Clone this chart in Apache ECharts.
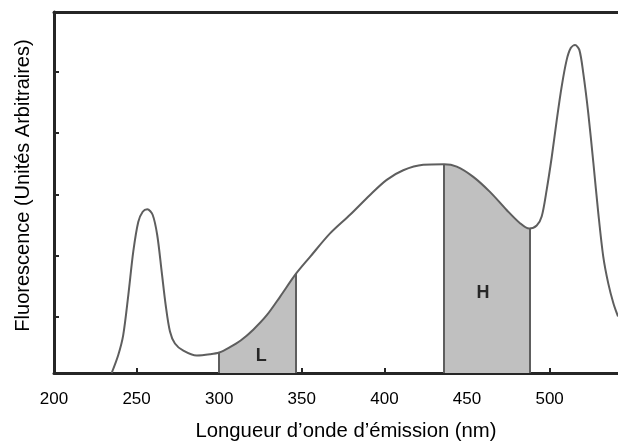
<!DOCTYPE html>
<html>
<head>
<meta charset="utf-8">
<script src="https://cdn.jsdelivr.net/npm/echarts@6/dist/echarts.min.js"></script>
<style>
  html, body { margin: 0; padding: 0; background: #fff; }
  #chart { width: 618px; height: 441px; }
</style>
</head>
<body>
<div id="chart"></div>
<script>
// Emission wavelength (nm) and fluorescence (arbitrary units)
const wavelength = [234.9, 238.9, 241.9, 245.0, 248.0, 251.0, 253.7, 256.5, 259.7, 262.5,
  265.2, 267.6, 270.2, 273.2, 278.3, 286.4, 294.4, 300.0, 306.5, 313.0,
  320.6, 328.8, 336.9, 346.5, 355.0, 367.1, 379.2, 391.3, 401.4, 411.4,
  423.5, 436.1, 443.8, 453.8, 463.9, 474.0, 482.1, 487.7, 492.2, 495.2,
  498.2, 501.3, 504.3, 507.3, 510.3, 512.8, 515.4, 518.0, 520.4, 523.4,
  526.5, 529.5, 532.5, 535.5, 538.6, 541.4];
const fluorescence = [0.00, 0.30, 0.63, 1.30, 2.02, 2.51, 2.68, 2.72, 2.63, 2.29,
  1.68, 1.13, 0.69, 0.49, 0.37, 0.29, 0.31, 0.34, 0.43, 0.54,
  0.72, 0.96, 1.27, 1.65, 1.93, 2.32, 2.63, 2.96, 3.21, 3.37,
  3.46, 3.47, 3.43, 3.26, 3.01, 2.71, 2.49, 2.40, 2.45, 2.60,
  3.04, 3.59, 4.20, 4.76, 5.20, 5.40, 5.45, 5.37, 4.98, 4.32,
  3.49, 2.65, 1.93, 1.49, 1.16, 0.94];

// Shaded integration bands
const bandNames = ['L', 'H'];
const bandStart = [300.0, 436.1];
const bandEnd = [346.5, 487.7];
const bandLabelX = [325.5, 459.7];
const bandLabelY = [0.28, 1.33];

// Axis settings
const xMin = 200, xMax = 541.4, xStep = 50;
const yMin = 0, yMax = 6;
const yTicks = [0.94, 1.95, 2.97, 3.99, 5.01];

const curve = wavelength.map((w, i) => [w, fluorescence[i]]);
function valueAt(x) {
  const i = wavelength.indexOf(x);
  return fluorescence[i];
}

const boundaryLines = [];
bandStart.forEach((s, i) => {
  [s, bandEnd[i]].forEach(x => {
    boundaryLines.push([{ coord: [x, 0] }, { coord: [x, valueAt(x)] }]);
  });
});

const FONT = "'Liberation Sans', Arial, sans-serif";
const AXIS_COLOR = '#262626';
const LINE_COLOR = '#5e5e5e';

const chart = echarts.init(document.getElementById('chart'), null, { renderer: 'canvas' });
chart.setOption({
  animation: false,
  backgroundColor: '#ffffff',
  grid: { left: 54, right: 0, top: 12, bottom: 68, containLabel: false, outerBoundsMode: 'none' },
  visualMap: {
    type: 'piecewise',
    show: false,
    dimension: 0,
    seriesIndex: 0,
    pieces: bandStart.map((s, i) => ({ gte: s, lte: bandEnd[i], color: '#c0c0c0' })),
    outOfRange: { color: 'rgba(0,0,0,0)' }
  },
  xAxis: [{
    type: 'value',
    min: xMin, max: xMax, interval: xStep,
    position: 'bottom',
    name: 'Longueur d’onde d’émission (nm)',
    nameLocation: 'middle',
    nameGap: 48,
    nameTextStyle: { fontFamily: FONT, fontSize: 20.3, color: '#000', padding: [0, 0, 0, 20] },
    axisLine: { show: true, lineStyle: { color: AXIS_COLOR, width: 3 } },
    axisTick: { show: true, inside: true, length: 5, lineStyle: { color: AXIS_COLOR, width: 2 } },
    axisLabel: { fontFamily: FONT, fontSize: 17, color: '#000', margin: 18, showMaxLabel: false },
    splitLine: { show: false }
  }, {
    type: 'value',
    min: xMin, max: xMax,
    position: 'top',
    axisLine: { show: true, lineStyle: { color: AXIS_COLOR, width: 3 } },
    axisTick: { show: false },
    axisLabel: { show: false },
    splitLine: { show: false }
  }],
  yAxis: {
    type: 'value',
    min: yMin, max: yMax,
    name: 'Fluorescence (Unités Arbitraires)',
    nameLocation: 'middle',
    nameGap: 21,
    nameTextStyle: { fontFamily: FONT, fontSize: 20, color: '#000', padding: [0, 0, 0, 14] },
    axisLine: { show: true, lineStyle: { color: AXIS_COLOR, width: 3 } },
    axisTick: { show: true, inside: true, length: 5, customValues: yTicks, lineStyle: { color: AXIS_COLOR, width: 2 } },
    axisLabel: { show: false },
    splitLine: { show: false }
  },
  series: [{
    type: 'line',
    data: curve,
    smooth: 0.3,
    symbol: 'none',
    lineStyle: { color: LINE_COLOR, width: 2 },
    areaStyle: { opacity: 1 },
    markLine: {
      silent: true,
      symbol: ['none', 'none'],
      label: { show: false },
      lineStyle: { color: LINE_COLOR, width: 2, type: 'solid' },
      data: boundaryLines
    },
    z: 2
  }, {
    type: 'scatter',
    data: bandNames.map((n, i) => ({ name: n, value: [bandLabelX[i], bandLabelY[i]] })),
    symbolSize: 0,
    label: {
      show: true,
      position: 'inside',
      formatter: p => p.name,
      fontFamily: FONT,
      fontSize: 18,
      fontWeight: 'bold',
      color: '#000'
    },
    z: 5
  }]
});
</script>
</body>
</html>
